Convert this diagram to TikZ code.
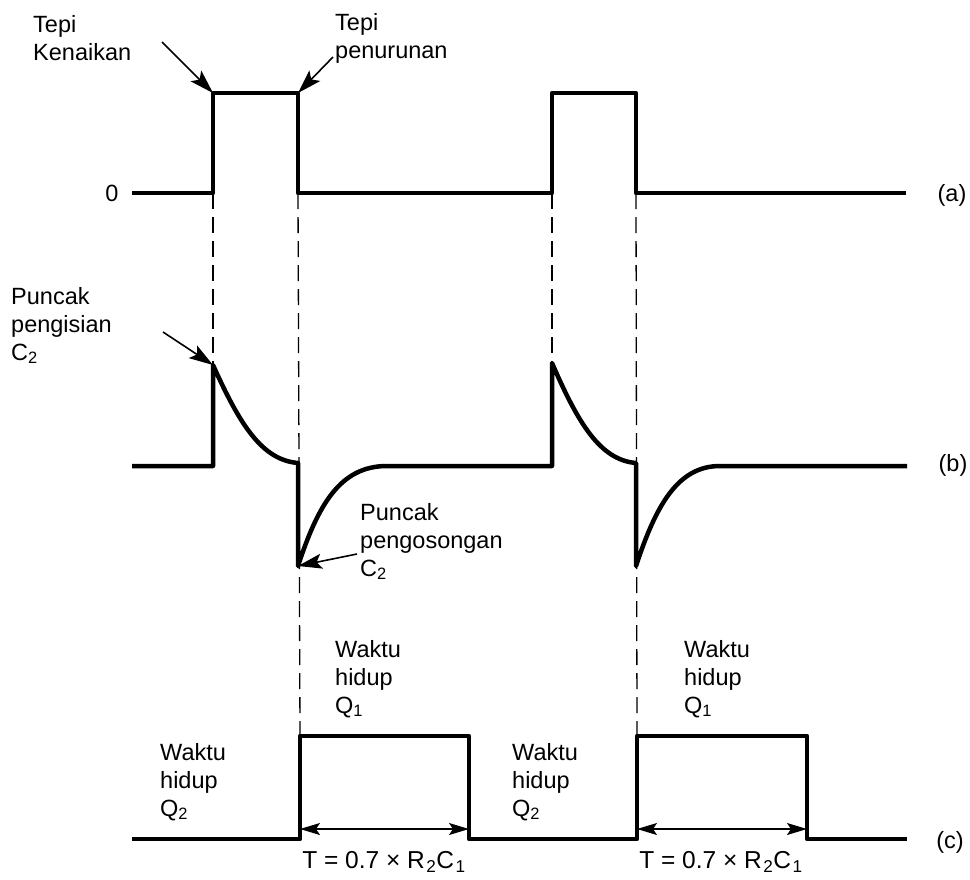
\documentclass[tikz,border=0pt]{standalone}
\usepackage{fontspec}
\setmainfont{Liberation Sans}
\usetikzlibrary{arrows.meta,positioning}

\begin{document}
\begin{tikzpicture}[x=1pt,y=-1pt,
  every node/.style={font=\fontsize{23.5}{28}\selectfont,inner sep=0pt},
  lbl/.style={align=left,anchor=north west},
  wave/.style={line width=4.5pt,line join=round},
  guide/.style={line width=1.3pt,dash pattern=on 16pt off 8pt},
  pointer/.style={line width=1.6pt,-{Stealth[length=24pt,width=15pt,inset=5pt]}},
  span/.style={line width=1.3pt,{Stealth[length=20pt,width=12pt,inset=4pt]}-{Stealth[length=20pt,width=12pt,inset=4pt]}}]
\useasboundingbox (0,0) rectangle (970,879);
% labels
\node[lbl] (kenaikan) at (33,15) {Tepi\\Kenaikan};
\node[lbl] (penurunan) at (335,13) {Tepi\\penurunan};
\node[lbl] (pengisian) at (11,287) {Puncak\\pengisian\\C\textsubscript{2}};
\node[lbl] (pengosongan) at (360,503) {Puncak\\pengosongan\\C\textsubscript{2}};
\node[lbl] (onQa) at (335,640) {Waktu\\hidup\\Q\textsubscript{1}};
\node[lbl] (onQb) at (684,640) {Waktu\\hidup\\Q\textsubscript{1}};
\node[lbl] (offQa) at (160,743) {Waktu\\hidup\\Q\textsubscript{2}};
\node[lbl] (offQb) at (512,743) {Waktu\\hidup\\Q\textsubscript{2}};
\node (zero) at (112,193) {0};
\node (tagA) at (952,195) {(a)};
\node (tagB) at (953,465) {(b)};
\node (tagC) at (950,842) {(c)};
\node[font=\fontsize{24.5}{28}\selectfont] (periodA) at (384,862) {T = 0.7 × R\kern1.5pt\textsubscript{2}C\kern1.5pt\textsubscript{1}};
\node[font=\fontsize{24.5}{28}\selectfont] (periodB) at (721,862) {T = 0.7 × R\kern1.5pt\textsubscript{2}C\kern1.5pt\textsubscript{1}};
% key points
\coordinate (riseA) at (213,93);
\coordinate (fallA) at (298,93);
\coordinate (peakA) at (213,365);
\coordinate (troughA) at (298,566);
\coordinate (riseB) at (552,93);
\coordinate (fallB) at (636,93);
\coordinate (peakB) at (552,363);
\coordinate (troughB) at (636,566);
\coordinate (highA) at (300,736);
\coordinate (highB) at (637,736);
\coordinate (lowA) at (469,829);
\coordinate (lowB) at (807,829);
% waveform (a)
\draw[wave] (132,193) -- (213,193) -- (riseA) -- (fallA) -- (298,193) -- (552,193) -- (riseB) -- (fallB) -- (636,193) -- (906,193);
% waveform (b)
\draw[wave] (132,466) -- (213,466) -- (peakA) .. controls (240,425) and (262,460) .. (298,463) -- (troughA)
  .. controls (318,505) and (340,466) .. (387,466) -- (552,466) -- (peakB) .. controls (578,423) and (600,460) .. (636,463)
  -- (troughB) .. controls (656,505) and (678,466) .. (720,466) -- (907,466);
% waveform (c)
\draw[wave] (132,839) -- (300,839) -- (highA) -- (469,736) -- (469,839) -- (637,839) -- (highB) -- (807,736) -- (807,839) -- (907,839);
% guides
\draw[guide] (213,193) -- (peakA);
\draw[guide] (298,193) -- (highA);
\draw[guide] (552,193) -- (peakB);
\draw[guide] (636,193) -- (highB);
% pointers
\draw[pointer] (162,42) -- (riseA);
\draw[pointer] (333,57) -- (fallA);
\draw[pointer] (163,332) -- (peakA);
\draw[pointer] (357,554) -- (troughA);
\draw[span] (300,829) -- (lowA);
\draw[span] (637,829) -- (lowB);
\end{tikzpicture}
\end{document}
